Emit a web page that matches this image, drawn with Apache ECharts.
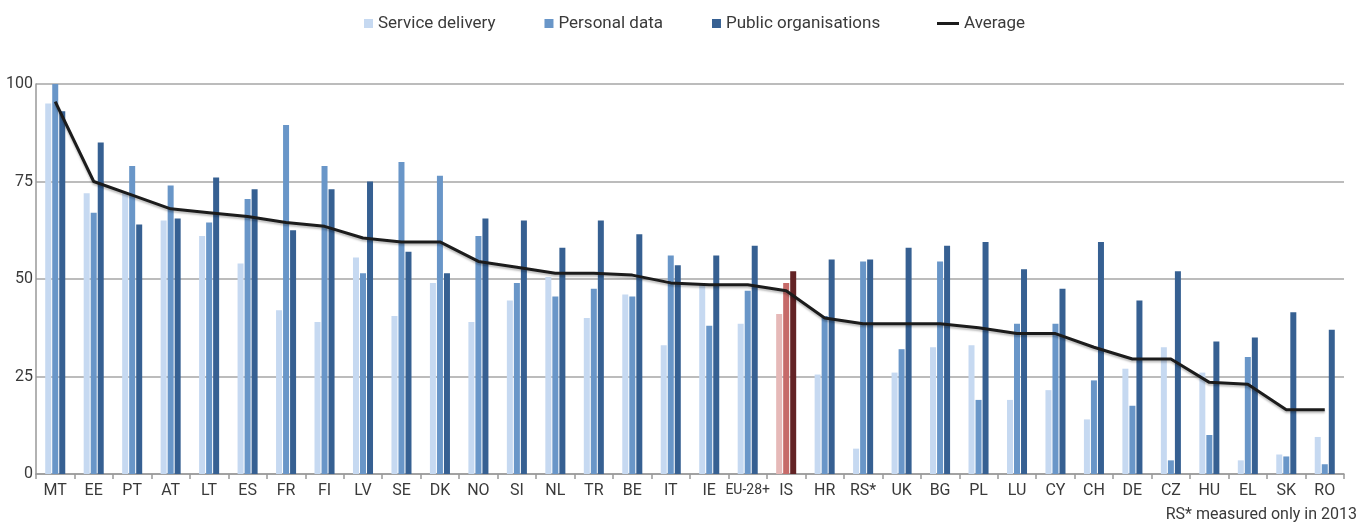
<!DOCTYPE html>
<html>
<head>
<meta charset="utf-8">
<script src="https://cdn.jsdelivr.net/npm/echarts@6/dist/echarts.min.js"></script>
<style>
html,body{margin:0;padding:0;background:#fff;}
#chart{width:1366px;height:529px;}
</style>
</head>
<body>
<div id="chart"></div>
<script>
var categories = ['MT','EE','PT','AT','LT','ES','FR','FI','LV','SE','DK','NO','SI','NL','TR','BE','IT','IE','EU-28+','IS','HR','RS*','UK','BG','PL','LU','CY','CH','DE','CZ','HU','EL','SK','RO'];
var serviceDelivery = [95, 72, 72, 65, 61, 54, 42, 39, 55.5, 40.5, 49, 39, 44.5, 50.5, 40, 46, 33, 48.5, 38.5, 41, 25.5, 6.5, 26, 32.5, 33, 19, 21.5, 14, 27, 32.5, 26, 3.5, 5, 9.5];
var personalData = [100, 67, 79, 74, 64.5, 70.5, 89.5, 79, 51.5, 80, 76.5, 61, 49, 45.5, 47.5, 45.5, 56, 38, 47, 49, 40.5, 54.5, 32, 54.5, 19, 38.5, 38.5, 24, 17.5, 3.5, 10, 30, 4.5, 2.5];
var publicOrgs = [93, 85, 64, 65.5, 76, 73, 62.5, 73, 75, 57, 51.5, 65.5, 65, 58, 65, 61.5, 53.5, 56, 58.5, 52, 55, 55, 58, 58.5, 59.5, 52.5, 47.5, 59.5, 44.5, 52, 34, 35, 41.5, 37];
var average = [95.5, 75, 71.5, 68, 67, 66, 64.5, 63.5, 60.5, 59.5, 59.5, 54.5, 53, 51.5, 51.5, 51, 49, 48.5, 48.5, 47, 40, 38.5, 38.5, 38.5, 37.5, 36, 36, 32.5, 29.5, 29.5, 23.5, 23, 16.5, 16.5];
var yTicks = [0, 25, 50, 75, 100];
var seriesNames = ['Service delivery', 'Personal data', 'Public organisations', 'Average'];
var highlightCategory = 'IS';
var noteText = 'RS* measured only in 2013';

var FONT = 'Roboto, "Liberation Sans", sans-serif';
var TXT = '#3a3a3a';
var colors = ['#c6d9f1', '#6996c8', '#366092'];
var hiColors = ['#e6b9b8', '#c66a69', '#632325'];

function barData(values, idx) {
  return values.map(function (v, i) {
    if (categories[i] === highlightCategory) {
      return { value: v, itemStyle: { color: hiColors[idx] } };
    }
    return v;
  });
}

var xData = categories.map(function (c) {
  if (c === 'EU-28+') return { value: c, textStyle: { fontSize: 14 } };
  return c;
});

var chart = echarts.init(document.getElementById('chart'), null, { renderer: 'canvas' });
var option = {
  animation: false,
  backgroundColor: '#fff',
  textStyle: { fontFamily: FONT },
  title: {
    text: noteText,
    right: 4,
    bottom: 1,
    textStyle: { fontFamily: FONT, fontSize: 16, fontWeight: 'normal', color: TXT }
  },
  legend: [{
    data: seriesNames.slice(0, 3),
    left: 359,
    top: 10,
    itemWidth: 9,
    itemHeight: 9,
    itemGap: 49,
    icon: 'rect',
    textStyle: { fontFamily: FONT, fontSize: 17, color: TXT }
  }, {
    data: [seriesNames[3]],
    left: 932,
    top: 10,
    itemWidth: 22,
    itemHeight: 3,
    icon: 'rect',
    textStyle: { fontFamily: FONT, fontSize: 17, color: TXT }
  }],
  grid: { left: 36, right: 22, top: 84, bottom: 55, containLabel: false },
  xAxis: {
    type: 'category',
    data: xData,
    boundaryGap: true,
    axisLine: { lineStyle: { color: '#999', width: 1.5 } },
    axisTick: { show: true, length: 5, lineStyle: { color: '#999', width: 1.5 } },
    axisLabel: { interval: 0, margin: 9, fontFamily: FONT, fontSize: 16, color: TXT }
  },
  yAxis: {
    type: 'value',
    min: yTicks[0],
    max: yTicks[yTicks.length - 1],
    interval: yTicks[1] - yTicks[0],
    axisLine: { show: true, lineStyle: { color: '#999', width: 1.5 } },
    axisTick: { show: false },
    axisLabel: { margin: 3, fontFamily: FONT, fontSize: 16, color: TXT },
    splitLine: { lineStyle: { color: '#a6a6a6', width: 1.5 } }
  },
  series: [{
    name: seriesNames[0], type: 'bar', data: barData(serviceDelivery, 0),
    itemStyle: { color: colors[0] }, barWidth: 6, barGap: '17%'
  }, {
    name: seriesNames[1], type: 'bar', data: barData(personalData, 1),
    itemStyle: { color: colors[1] }, barWidth: 6, barGap: '17%'
  }, {
    name: seriesNames[2], type: 'bar', data: barData(publicOrgs, 2),
    itemStyle: { color: colors[2] }, barWidth: 6, barGap: '17%'
  }, {
    name: seriesNames[3], type: 'line', data: average,
    symbol: 'none', z: 5,
    itemStyle: { color: '#1c1c1c' },
    lineStyle: { color: '#1c1c1c', width: 3, shadowColor: 'rgba(0,0,0,0.25)', shadowBlur: 2, shadowOffsetY: 2 }
  }]
};
chart.setOption(option);
</script>
</body>
</html>
